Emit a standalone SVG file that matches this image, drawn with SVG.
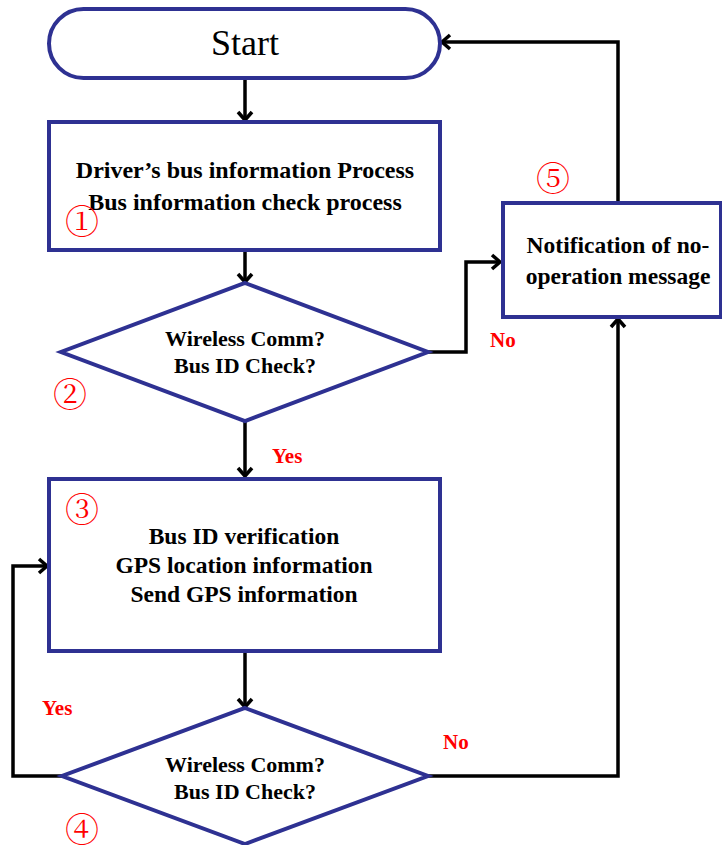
<svg xmlns="http://www.w3.org/2000/svg" width="722" height="845" viewBox="0 0 722 845">
<defs>
<style>
.shape{fill:#fff;stroke:#2e3192;stroke-width:4}
.line{fill:none;stroke:#000;stroke-width:3.5}
.t{font-weight:bold;fill:#000;text-anchor:middle}
.lbl{font-weight:bold;fill:#ff0000;font-size:21px}
.num{fill:#ff0000;font-size:34px;text-anchor:middle;dominant-baseline:central}
</style>
<marker id="arr" viewBox="-10 -10 20 20" refX="0" refY="0" markerWidth="20" markerHeight="20" markerUnits="userSpaceOnUse" orient="auto">
<path d="M-8,-7 L0,0 L-8,7" fill="none" stroke="#000" stroke-width="3.5"/>
</marker>
</defs>
<rect width="722" height="845" fill="#fff"/>
<g id="connectors" font-family="'Liberation Serif', serif">
<line class="line" x1="245" y1="78" x2="245" y2="120" marker-end="url(#arr)"/>
<line class="line" x1="245" y1="250" x2="245" y2="282" marker-end="url(#arr)"/>
<polyline class="line" points="428,352 466,352 466,262 500,262" marker-end="url(#arr)"/>
<line class="line" x1="245" y1="421" x2="245" y2="476" marker-end="url(#arr)"/>
<polyline class="line" points="618,203 618,42 442,42" marker-end="url(#arr)"/>
<line class="line" x1="245" y1="651" x2="245" y2="707" marker-end="url(#arr)"/>
<polyline class="line" points="62,776 13,776 13,566 47,566" marker-end="url(#arr)"/>
<polyline class="line" points="428,776 618,776 618,319" marker-end="url(#arr)"/>
<text class="lbl" x="490" y="347" font-family="'Liberation Serif', serif">No</text>
<text class="lbl" x="272" y="463" font-family="'Liberation Serif', serif">Yes</text>
<text class="lbl" x="42" y="715" font-family="'Liberation Serif', serif">Yes</text>
<text class="lbl" x="443" y="749" font-family="'Liberation Serif', serif">No</text>
</g>
<g id="start">
<rect class="shape" x="49" y="9" width="391" height="69" rx="34.5" ry="34.5"/>
<text x="245" y="55" font-family="'Liberation Serif', serif" font-size="36" text-anchor="middle">Start</text>
</g>
<g id="process1" font-family="'Liberation Serif', serif">
<rect class="shape" x="49" y="122" width="391" height="128"/>
<text class="t" font-family="'Liberation Serif', serif" font-size="24" x="245" y="178">Driver’s bus information Process</text>
<text class="t" font-family="'Liberation Serif', serif" font-size="24" x="245" y="210">Bus information check process</text>
<text class="num" font-family="'Noto Serif CJK JP', 'Noto Sans CJK JP', serif" x="82" y="219">①</text>
</g>
<g id="decision1">
<polygon class="shape" points="245,283 428,352 245,421 61,352"/>
<text class="t" font-family="'Liberation Serif', serif" font-size="22" x="245" y="346">Wireless Comm?</text>
<text class="t" font-family="'Liberation Serif', serif" font-size="22" x="245" y="373">Bus ID Check?</text>
<text class="num" font-family="'Noto Serif CJK JP', 'Noto Sans CJK JP', serif" x="70" y="392">②</text>
</g>
<g id="process3">
<rect class="shape" x="49" y="479" width="391" height="172"/>
<text class="t" font-family="'Liberation Serif', serif" font-size="23.5" x="244" y="544">Bus ID verification</text>
<text class="t" font-family="'Liberation Serif', serif" font-size="23.5" x="244" y="573">GPS location information</text>
<text class="t" font-family="'Liberation Serif', serif" font-size="23.5" x="244" y="602">Send GPS information</text>
<text class="num" font-family="'Noto Serif CJK JP', 'Noto Sans CJK JP', serif" x="82" y="507">③</text>
</g>
<g id="process5">
<rect class="shape" x="503" y="203" width="218" height="114"/>
<text class="t" font-family="'Liberation Serif', serif" font-size="23.5" x="618" y="253">Notification of no-</text>
<text class="t" font-family="'Liberation Serif', serif" font-size="23.5" x="618" y="284">operation message</text>
<text class="num" font-family="'Noto Serif CJK JP', 'Noto Sans CJK JP', serif" x="553" y="176">⑤</text>
</g>
<g id="decision2">
<polygon class="shape" points="245,708 428,776 245,844 62,776"/>
<text class="t" font-family="'Liberation Serif', serif" font-size="22" x="245" y="772">Wireless Comm?</text>
<text class="t" font-family="'Liberation Serif', serif" font-size="22" x="245" y="799">Bus ID Check?</text>
<text class="num" font-family="'Noto Serif CJK JP', 'Noto Sans CJK JP', serif" x="82" y="827">④</text>
</g>
</svg>
